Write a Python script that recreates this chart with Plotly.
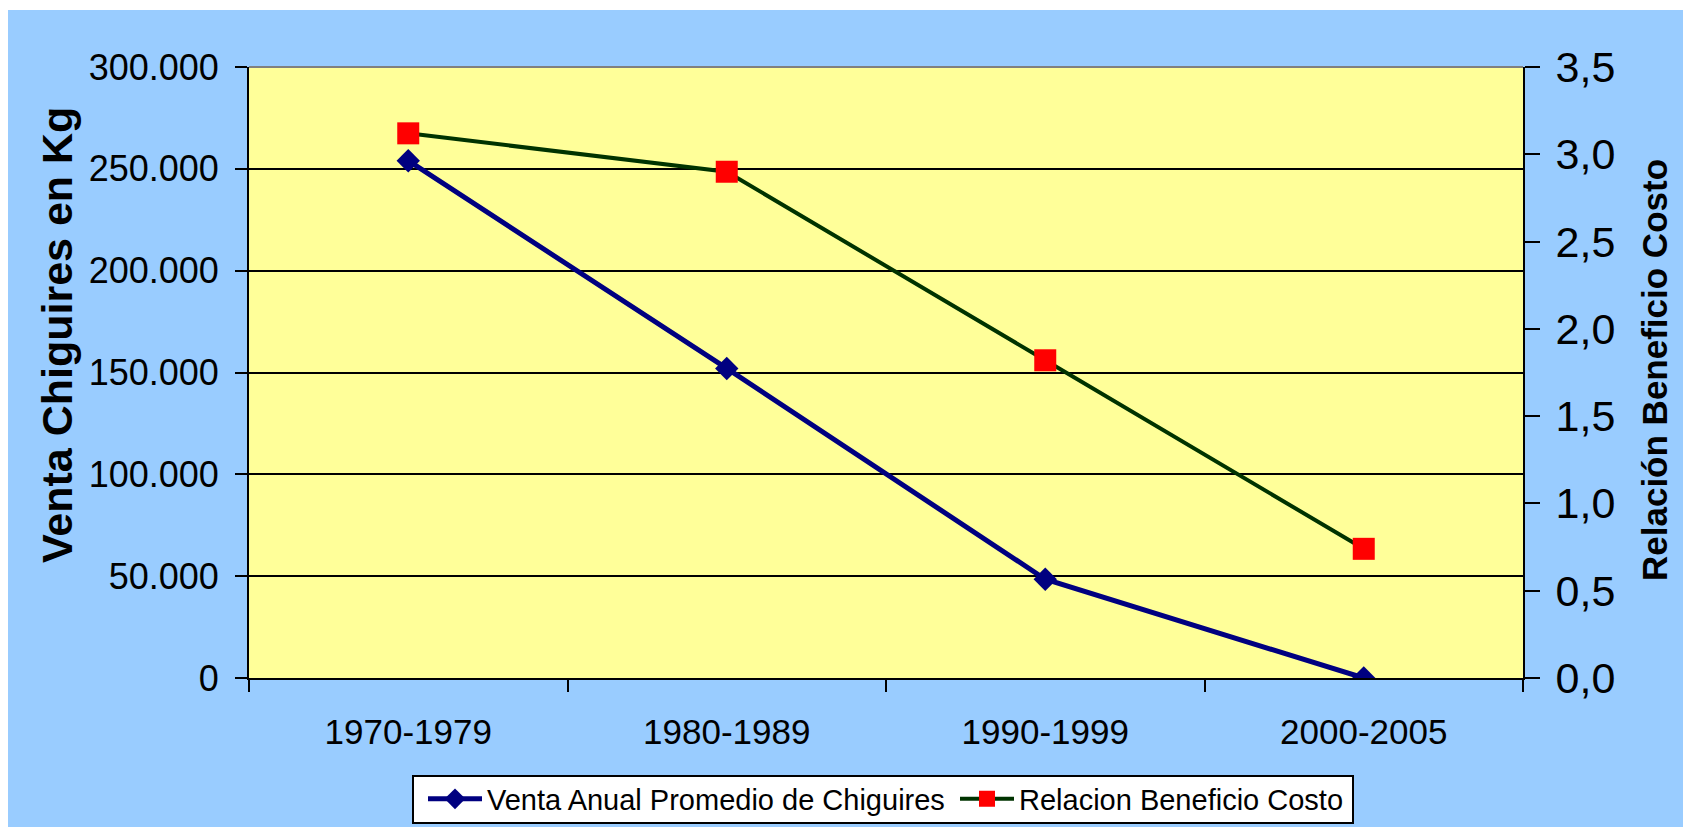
import plotly.graph_objects as go

# data
periodos = ["1970-1979", "1980-1989", "1990-1999", "2000-2005"]
venta_kg = [254000, 152000, 48500, 0]
relacion_bc = [3.12, 2.90, 1.82, 0.74]

nombre_venta = "Venta Anual Promedio de Chiguires"
nombre_relacion = "Relacion Beneficio Costo"
titulo_izq = "Venta Chiguires en Kg"
titulo_der = "Relación Beneficio Costo"

# the page body adds 8px on the left/top, figure fills the rest
W, H = 1683, 819
L, R, T, B = 241, 1515, 59, 670   # plot area in pixels
FONT = "Liberation Sans, Arial, sans-serif"


def px_x(px):
    """pixel -> paper x"""
    return (px - L) / (R - L)


def px_y(py):
    """pixel -> paper y"""
    return (B - py) / (B - T)


fig = go.Figure()

fig.add_trace(go.Scatter(x=periodos, y=venta_kg,
                         name=nombre_venta,
                         mode="lines+markers",
                         line=dict(color="#000080", width=5),
                         marker=dict(symbol="diamond", size=18, color="#000080"),
                         yaxis="y"))

fig.add_trace(go.Scatter(x=periodos, y=relacion_bc,
                         name=nombre_relacion,
                         mode="lines+markers",
                         line=dict(color="#003300", width=4),
                         marker=dict(symbol="square", size=22, color="#FF0000"),
                         yaxis="y2"))

fig.update_layout(
    width=W, height=H,
    margin=dict(l=L, r=W - R, t=T, b=H - B, pad=0),
    paper_bgcolor="#99CCFF",
    plot_bgcolor="#FFFF99",
    separators=",.",
    font=dict(family=FONT, color="black"),
    showlegend=True,
    legend=dict(orientation="h",
                xref="container", yref="container",
                x=415 / W, y=1 - 791 / H,
                xanchor="left", yanchor="middle",
                bgcolor="rgba(0,0,0,0)",
                borderwidth=0,
                font=dict(size=29, family=FONT),
                itemwidth=54,
                entrywidth=463,
                traceorder="normal"),
    xaxis=dict(type="category",
               range=[-0.5, 3.5],
               tickson="boundaries",
               ticks="outside", ticklen=12, tickwidth=2, tickcolor="black",
               showline=True, linecolor="black", linewidth=2,
               showgrid=False,
               tickfont=dict(size=35),
               ticklabelstandoff=22),
    yaxis=dict(range=[0, 300000],
               tickvals=[0, 50000, 100000, 150000, 200000, 250000, 300000],
               tickformat=",d",
               ticks="outside", ticklen=12, tickwidth=2, tickcolor="black",
               showline=True, linecolor="black", linewidth=2,
               showgrid=True, gridcolor="black", gridwidth=2,
               zeroline=False,
               tickfont=dict(size=36),
               ticklabelstandoff=9),
    yaxis2=dict(range=[0, 3.5],
                tickvals=[0, 0.5, 1, 1.5, 2, 2.5, 3, 3.5],
                tickformat=".1f",
                overlaying="y", side="right", anchor="x",
                ticks="outside", ticklen=15, tickwidth=2, tickcolor="black",
                showline=True, linecolor="black", linewidth=2,
                showgrid=False, zeroline=False,
                tickfont=dict(size=43),
                ticklabelstandoff=7),
    # inner half of the crossing ticks on the right axis
    yaxis3=dict(range=[0, 3.5],
                tickvals=[0, 0.5, 1, 1.5, 2, 2.5, 3, 3.5],
                overlaying="y", side="right", anchor="x",
                ticks="inside", ticklen=15, tickwidth=2, tickcolor="black",
                showticklabels=False, showline=False,
                showgrid=False, zeroline=False),
)

# thin white strip on top (rest comes from the page margin)
fig.add_shape(type="rect", xref="paper", yref="paper", layer="above",
              x0=px_x(0), x1=px_x(W), y0=px_y(2), y1=px_y(0),
              fillcolor="white", line_width=0)
# grey border on top of the plot area
fig.add_shape(type="line", xref="paper", yref="paper",
              x0=0, x1=1, y0=1, y1=1,
              line=dict(color="#808080", width=2))
# legend box
fig.add_shape(type="rect", xref="paper", yref="paper", layer="above",
              x0=px_x(405), x1=px_x(1345), y0=px_y(815), y1=px_y(768),
              fillcolor="white", line=dict(color="black", width=2))

# axis titles
fig.add_annotation(text="<b>" + titulo_izq + "</b>", textangle=-90,
                   xref="paper", yref="paper", x=px_x(49), y=px_y(327),
                   xanchor="center", yanchor="middle",
                   showarrow=False, font=dict(size=43, family=FONT))
fig.add_annotation(text="<b>" + titulo_der + "</b>", textangle=-90,
                   xref="paper", yref="paper", x=px_x(1646), y=px_y(362),
                   xanchor="center", yanchor="middle",
                   showarrow=False, font=dict(size=35, family=FONT))

fig.write_html("out.html",
               post_script="document.body.style.overflow='hidden';")
